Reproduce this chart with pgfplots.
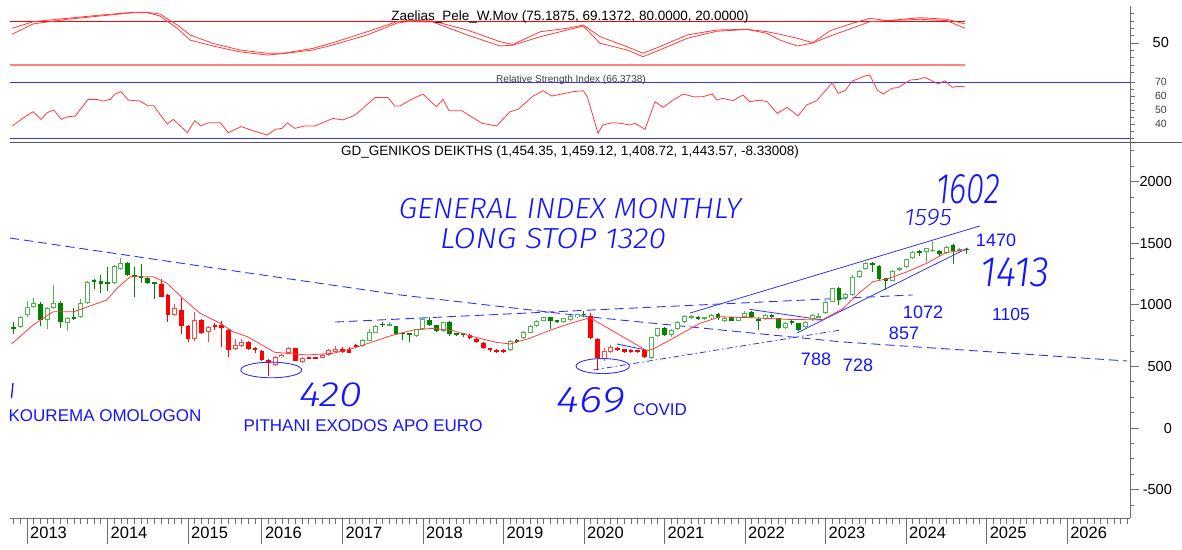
\documentclass[border=0pt]{standalone}
\usepackage{pgfplots}
\pgfplotsset{compat=1.18}
\usepackage{pgfplotstable}
\usepackage{fontspec}
\setmainfont{Liberation Sans}
\IfFontExistsTF{Fira Sans Light Italic}
  {\newfontfamily\hand{Fira Sans Light Italic}}
  {\IfFontExistsTF{FiraSans-LightItalic.otf}
    {\newfontfamily\hand{FiraSans-LightItalic.otf}}
    {\newfontfamily\hand{Liberation Sans Italic}}}
\definecolor{gh}{RGB}{80,180,80}
\definecolor{gf}{RGB}{0,130,0}
\definecolor{rf}{RGB}{255,0,0}
\definecolor{rh}{RGB}{255,70,70}
\definecolor{rl}{RGB}{255,130,130}
\definecolor{bl}{RGB}{50,50,255}
\definecolor{bt}{RGB}{20,20,255}
\definecolor{ma}{RGB}{255,60,60}
\definecolor{axgrey}{RGB}{110,110,110}

\pgfplotstableread{
i o h l c t
-2 814 860 763 808 2
-1 817 910 810 903 1
0 917 1030 905 985 1
1 985 1055 978 1012 1
2 1006 1020 828 877 2
3 877 985 802 973 1
4 973 1160 965 1014 1
5 1017 1030 811 857 2
6 855 905 790 893 1
7 903 973 877 887 2
8 898 1047 890 1017 1
9 1012 1195 1005 1188 1
10 1199 1209 1128 1193 2
11 1196 1242 1093 1171 2
12 1180 1309 1114 1175 2
13 1175 1320 1165 1315 1
14 1288 1377 1280 1337 1
15 1337 1345 1235 1242 2
16 1238 1309 1066 1232 2
17 1236 1331 1175 1222 2
18 1220 1228 1168 1175 2
19 1180 1183 1047 1175 2
20 1169 1209 1060 1066 4
21 1080 1085 863 917 4
22 917 1006 910 972 3
23 958 1053 760 828 4
24 828 835 700 720 4
25 720 944 710 877 3
26 877 885 765 774 4
27 779 830 701 822 3
28 830 850 795 826 4
29 833 871 654 809 4
30 795 800 574 633 4
31 639 720 630 674 3
32 666 722 660 701 3
33 701 705 630 639 4
34 645 660 606 641 4
35 625 630 545 552 4
36 552 560 422 525 4
37 512 585 505 579 3
38 574 600 565 593 3
39 606 655 600 647 3
40 647 650 540 544 4
41 538 575 530 566 3
42 573 580 560 569 4
43 573 578 562 569 4
44 571 598 565 593 3
45 593 640 588 633 3
46 620 666 615 639 3
47 641 655 610 614 4
48 641 660 608 612 4
49 668 680 650 664 4
50 666 720 660 714 1
51 709 800 705 782 1
52 774 840 770 828 1
53 843 863 822 839 2
54 828 860 825 841 1
55 828 832 755 760 2
56 770 782 714 766 2
57 768 772 701 752 2
58 747 806 742 801 1
59 801 890 796 882 1
60 877 903 830 836 2
61 836 840 780 787 2
62 787 862 780 857 1
63 863 868 744 760 2
64 765 770 745 761 2
65 765 775 740 761 2
66 755 760 725 733 4
67 722 728 690 695 4
68 693 698 640 647 4
69 643 650 620 639 4
70 628 640 610 624 4
71 633 640 608 614 4
72 633 715 625 709 1
73 714 720 690 701 2
74 728 790 720 782 1
75 774 835 770 828 1
76 828 880 820 871 1
77 871 905 865 898 1
78 898 905 801 871 2
79 873 880 850 869 2
80 863 895 855 890 1
81 877 915 870 909 1
82 898 928 893 923 1
83 925 946 905 921 2
84 909 930 720 728 4
85 722 730 471 568 4
86 560 650 540 627 3
87 620 674 612 655 3
88 649 660 625 633 4
89 639 645 608 614 4
90 630 640 612 618 4
91 630 636 612 622 4
92 633 640 572 579 4
93 566 742 560 736 1
94 747 815 740 809 1
95 814 820 745 755 2
96 755 800 740 795 1
97 801 870 795 863 1
98 863 915 855 909 1
99 895 915 888 909 1
100 898 910 880 894 2
101 888 905 880 898 1
102 890 925 885 917 1
103 925 935 880 890 2
104 870 900 860 895 1
105 898 905 865 871 2
106 871 905 865 898 1
107 898 950 890 936 1
108 944 950 890 898 2
109 879 900 795 875 2
110 882 925 875 917 1
111 917 925 885 898 2
112 890 895 800 809 2
113 809 858 800 850 1
114 868 875 840 850 2
115 850 855 785 795 2
116 822 870 810 863 1
117 882 925 870 917 1
118 900 930 895 909 1
119 931 1035 925 1025 1
120 1025 1140 1020 1134 1
121 1134 1145 1000 1039 2
122 1053 1095 1040 1088 1
123 1080 1240 1075 1223 1
124 1223 1285 1215 1277 1
125 1288 1345 1280 1337 1
126 1337 1345 1270 1323 2
127 1315 1320 1200 1207 2
128 1215 1220 1120 1196 2
129 1196 1285 1190 1277 1
130 1282 1305 1275 1296 1
131 1304 1375 1298 1369 1
132 1377 1440 1370 1431 1
133 1433 1445 1400 1429 2
134 1431 1465 1350 1458 1
135 1437 1520 1430 1445 1
136 1437 1445 1400 1410 2
137 1423 1480 1415 1472 1
138 1485 1490 1330 1439 2
139 1439 1460 1430 1450 1
140 1454.35 1459.12 1408.72 1443.57 2
}\candles

\pgfplotsset{
  panel/.style={scale only axis, anchor=north west, width=1120pt,
    xmin=-2.534, xmax=164.38},
}

\begin{document}
\begin{tikzpicture}
\useasboundingbox (0pt,0pt) rectangle (1182pt,-549pt);

% ---------- top panel: Zaelias_Pele_W.Mov ----------
\begin{axis}[panel, at={(10pt,-5pt)}, height=68pt, ymin=9.09, ymax=101.8,
  axis x line=none, axis y line*=right, y axis line style={draw=none},
  ytick={50}, yticklabels={50}, minor ytick={10,20,30,40,60,70,80,90},
  tick align=outside, major tick length=9pt, minor tick length=4pt,
  tick style={axgrey, line width=0.8pt},
  yticklabel style={anchor=east, inner sep=0pt, xshift=30pt, font=\fontsize{14.5}{16}\selectfont},
  clip=false]
\addplot[rf, line width=0.8pt] coordinates {(-2.534,80) (139.8,80)};
\addplot[rl, line width=1.1pt] coordinates {(-2.534,20) (139.8,20)};
\addplot[ma, line width=0.8pt] coordinates {(-2.2,70) (0.9,79) (6.0,83.7) (10.9,88) (15.8,91.8) (17.9,91.8) (19.8,89.5) (22.4,74.5) (24.3,61) (27.7,49.5) (31.7,40.5) (35.8,36) (38.2,36) (42.6,42.7) (45.6,50.4) (50.7,65.4) (55.1,79) (57,81) (60.5,80) (65.6,67.7) (70.5,51.8) (72.4,48) (76.5,65.4) (80.5,70) (82.9,74.5) (85.4,58.6) (89.4,45) (91.8,36) (94.3,45) (98.4,61) (102.8,67.7) (107.3,68.7) (110.3,65.4) (112.2,61.9) (114.8,56.4) (117.1,50.4) (119.7,66.8) (122.2,74.5) (125.6,83.7) (128.2,80.5) (133.1,84.5) (137.1,82.3) (139.8,76)};
\addplot[ma, line width=0.8pt] coordinates {(-2.2,62) (0.9,76) (6.0,82.3) (10.9,86.8) (15.8,91.3) (17.9,91.5) (19.8,86.8) (22.4,70) (24.3,54) (27.7,45.9) (31.7,38) (35.8,33.6) (38.2,35.5) (42.6,40.5) (45.6,47.3) (50.7,61) (55.1,77) (57,79.5) (60.5,78.5) (65.6,61) (70.5,45.9) (72.4,47) (76.5,58.6) (80.5,67.7) (82.9,73.2) (85.4,49.6) (89.4,40.5) (91.8,31.3) (94.3,40.5) (98.4,56.4) (102.8,66) (107.3,68.5) (110.3,63.2) (112.2,54) (114.8,45.9) (117.1,50) (119.7,59.5) (122.2,67.7) (125.6,79) (128.2,80.5) (133.1,82.3) (137.1,80.5) (139.8,70)};
\end{axis}

% ---------- RSI panel ----------
\begin{axis}[panel, at={(10pt,-73pt)}, height=67pt, ymin=28.57, ymax=76.43,
  axis x line=none, axis y line*=right, y axis line style={draw=none},
  ytick={40,50,60,70}, yticklabels={40,50,60,70}, minor ytick={30,35,45,55,65},
  tick align=outside, major tick length=5pt, minor tick length=4pt,
  tick style={axgrey, line width=0.8pt},
  yticklabel style={anchor=east, inner sep=0pt, xshift=32pt, font=\fontsize{10.5}{12}\selectfont, text=black!75},
  clip=false]
\addplot[bl, line width=1pt] coordinates {(-2.534,70) (164.38,70)};
\addplot[bl, line width=1pt] coordinates {(-2.534,30) (164.38,30)};
\addplot[ma, line width=0.8pt] coordinates {(-2.2,38.6) (-0.3,45.2) (0.9,48.8) (2.1,43.3) (3.0,48.1) (4.0,50) (5.1,43.3) (6.1,45.2) (7.2,45.7) (9.1,57.6) (10.4,57.6) (11.3,56.4) (12.4,57.6) (13.1,61.4) (14.0,63.1) (15.1,57.1) (16.8,56.4) (18.0,53.1) (18.9,53) (20.9,40) (21.8,43.3) (23.9,33.8) (25.0,42.4) (25.9,38.6) (27.0,40.9) (28.8,40.9) (30.0,33.8) (31.9,38.1) (33.7,35.2) (35.8,32.1) (37.0,36.2) (38.0,36.9) (38.8,40.9) (39.9,36.9) (41.4,38.6) (42.9,38.6) (45.6,44) (47.1,42.9) (48.9,46.4) (51.9,59) (53.8,59) (54.8,52.9) (55.6,52.9) (57.1,57.1) (59.0,61.4) (61.0,52.4) (62.0,57.6) (62.9,49.5) (64.8,49.5) (67.8,40.5) (70.0,38.6) (72.0,48.8) (73.2,50.5) (75.3,59.5) (76.9,63.8) (78.2,60) (81.4,63.1) (82.9,63.8) (83.5,59.5) (85.1,33.3) (85.8,39.3) (87.2,40.9) (88.4,40.5) (89.9,39.3) (90.6,40.5) (92.1,36.2) (93.6,55.9) (94.8,51.9) (96.3,57.1) (97.8,61.4) (99.3,59.5) (100.7,59.5) (102.1,61.4) (102.8,57.1) (103.7,58.3) (105.2,56.7) (106.7,60.7) (107.7,55.9) (109.2,57.1) (110.3,55.9) (111.8,47.6) (113.3,51.9) (114.9,45.7) (116.2,53.6) (117.7,56.7) (120.0,69.5) (120.9,61.9) (121.9,63.8) (123.0,70.7) (124.9,74.3) (125.6,75) (126.7,64.3) (127.6,61.4) (128.9,65.5) (129.8,66) (131.6,71.4) (132.8,71.9) (133.8,73.3) (135.8,68.6) (136.8,70.9) (137.9,66.2) (138.7,66.9) (139.8,66.6)};
\end{axis}

% ---------- price panel ----------
\begin{axis}[panel, at={(10pt,-142pt)}, height=376pt, ymin=-730.5, ymax=2321.4,
  axis x line=none, axis y line*=right, y axis line style={draw=none},
  ytick={-500,0,500,1000,1500,2000}, yticklabels={-500,0,500,1000,1500,2000},
  minor ytick={-625,-375,-250,-125,125,250,375,625,750,875,1125,1250,1375,1625,1750,1875,2125,2250},
  tick align=outside, major tick length=9pt, minor tick length=4pt,
  tick style={axgrey, line width=0.8pt},
  yticklabel style={anchor=east, inner sep=0pt, xshift=33pt, font=\fontsize{14.5}{16}\selectfont}]
% trend lines
\addplot[bl, line width=0.9pt, dash pattern=on 9pt off 5pt] coordinates {(-2.53,1542) (25.8,1315) (55.6,1080) (85.4,893) (121.2,700) (163.9,544)};
\addplot[bl, line width=0.9pt, dash pattern=on 9pt off 5pt] coordinates {(45.9,860) (132.0,1080)};
\addplot[bl, line width=0.8pt] coordinates {(98.8,933) (142.0,1640)};
\addplot[bl, line width=0.8pt] coordinates {(114.8,773) (140.2,1461)};
\addplot[bl, line width=0.8pt] coordinates {(107.7,963) (118.6,877)};
\addplot[bl, line width=0.8pt] coordinates {(87.9,682) (92.3,633)};
\addplot[bl, line width=0.8pt, dash pattern=on 6pt off 3pt on 1.5pt off 3pt] coordinates {(84.4,471) (121.2,795)};
% wicks
\addplot[draw=none, mark=none, forget plot, restrict expr to domain={\thisrow{t}}{1:1},
  error bars/.cd, y dir=both, y explicit, error mark=none,
  error bar style={draw=gh, line width=1pt}]
  table[x=i, y expr={(\thisrow{o}+\thisrow{c})/2}, y error plus expr={\thisrow{h}-(\thisrow{o}+\thisrow{c})/2}, y error minus expr={(\thisrow{o}+\thisrow{c})/2-\thisrow{l}}]{\candles};
\addplot[draw=none, mark=none, forget plot, restrict expr to domain={\thisrow{t}}{2:2},
  error bars/.cd, y dir=both, y explicit, error mark=none,
  error bar style={draw=gf, line width=1pt}]
  table[x=i, y expr={(\thisrow{o}+\thisrow{c})/2}, y error plus expr={\thisrow{h}-(\thisrow{o}+\thisrow{c})/2}, y error minus expr={(\thisrow{o}+\thisrow{c})/2-\thisrow{l}}]{\candles};
\addplot[draw=none, mark=none, forget plot, restrict expr to domain={\thisrow{t}}{3:3},
  error bars/.cd, y dir=both, y explicit, error mark=none,
  error bar style={draw=rh, line width=1pt}]
  table[x=i, y expr={(\thisrow{o}+\thisrow{c})/2}, y error plus expr={\thisrow{h}-(\thisrow{o}+\thisrow{c})/2}, y error minus expr={(\thisrow{o}+\thisrow{c})/2-\thisrow{l}}]{\candles};
\addplot[draw=none, mark=none, forget plot, restrict expr to domain={\thisrow{t}}{4:4},
  error bars/.cd, y dir=both, y explicit, error mark=none,
  error bar style={draw=rf, line width=1pt}]
  table[x=i, y expr={(\thisrow{o}+\thisrow{c})/2}, y error plus expr={\thisrow{h}-(\thisrow{o}+\thisrow{c})/2}, y error minus expr={(\thisrow{o}+\thisrow{c})/2-\thisrow{l}}]{\candles};
% bodies
\addplot[draw=none, mark=none, forget plot, restrict expr to domain={\thisrow{t}}{2:2},
  error bars/.cd, y dir=both, y explicit, error mark=none,
  error bar style={draw=gf, line width=4.6pt}]
  table[x=i, y expr={(\thisrow{o}+\thisrow{c})/2}, y error expr={max(abs(\thisrow{c}-\thisrow{o})/2,6)}]{\candles};
\addplot[draw=none, mark=none, forget plot, restrict expr to domain={\thisrow{t}}{4:4},
  error bars/.cd, y dir=both, y explicit, error mark=none,
  error bar style={draw=rf, line width=4.6pt}]
  table[x=i, y expr={(\thisrow{o}+\thisrow{c})/2}, y error expr={max(abs(\thisrow{c}-\thisrow{o})/2,6)}]{\candles};
\addplot[draw=none, mark=none, forget plot, restrict expr to domain={\thisrow{t}}{1:1},
  error bars/.cd, y dir=both, y explicit, error mark=none,
  error bar style={draw=gh, line width=5pt}]
  table[x=i, y expr={(\thisrow{o}+\thisrow{c})/2}, y error expr={max(abs(\thisrow{c}-\thisrow{o})/2,6)}]{\candles};
\addplot[draw=none, mark=none, forget plot, restrict expr to domain={\thisrow{t}}{1:1},
  error bars/.cd, y dir=both, y explicit, error mark=none,
  error bar style={draw=white, line width=3pt}]
  table[x=i, y expr={(\thisrow{o}+\thisrow{c})/2}, y error expr={max(abs(\thisrow{c}-\thisrow{o})/2-8.1,0)}]{\candles};
\addplot[draw=none, mark=none, forget plot, restrict expr to domain={\thisrow{t}}{3:3},
  error bars/.cd, y dir=both, y explicit, error mark=none,
  error bar style={draw=rh, line width=5pt}]
  table[x=i, y expr={(\thisrow{o}+\thisrow{c})/2}, y error expr={max(abs(\thisrow{c}-\thisrow{o})/2,6)}]{\candles};
\addplot[draw=none, mark=none, forget plot, restrict expr to domain={\thisrow{t}}{3:3},
  error bars/.cd, y dir=both, y explicit, error mark=none,
  error bar style={draw=white, line width=3pt}]
  table[x=i, y expr={(\thisrow{o}+\thisrow{c})/2}, y error expr={max(abs(\thisrow{c}-\thisrow{o})/2-8.1,0)}]{\candles};
% moving average
\addplot[ma, line width=0.8pt] coordinates {(-2.3,682) (0.9,836) (3.9,944) (7.0,944) (11.9,1039) (13.4,1134) (15.4,1228) (18.8,1228) (20.9,1174) (23.2,1053) (25.8,931) (28.8,850) (30.7,782) (32.9,740) (34.5,690) (36.9,615) (38.7,606) (41.7,593) (45.6,606) (48.6,647) (51.6,701) (54.1,747) (57.5,795) (60.5,809) (63.5,790) (66.5,741) (70.0,695) (72.0,682) (75,730) (78.0,795) (81,850) (83.9,895) (92.4,627) (93.3,640) (96,720) (100.3,850) (103.3,903) (107.2,897) (113.3,882) (118.5,877) (121.5,965) (124.1,1100) (126.1,1188) (128.5,1215) (131.0,1265) (134.0,1335) (137.0,1425) (140.0,1445)};
\draw[bl, line width=0.9pt] (axis cs:36.4,471) ellipse [x radius=30.5pt, y radius=7.8pt];
\draw[bl, line width=0.9pt] (axis cs:85.8,503) ellipse [x radius=26.7pt, y radius=7.5pt];
\end{axis}

% ---------- time axis ----------
\begin{axis}[panel, at={(10pt,-142pt)}, height=376pt, ymin=0, ymax=1,
  axis y line=none, axis x line*=bottom, x axis line style={axgrey, line width=1pt, -},
  xtick={0,12,24,35,47,59,71,83,95,107,119,131,143,155},
  xticklabels={2013,2014,2015,2016,2017,2018,2019,2020,2021,2022,2023,2024,2025,2026},
  minor xtick={-2,-1,...,164},
  tick align=outside, major tick length=26pt, minor tick length=6pt,
  tick style={axgrey, line width=0.8pt},
  xticklabel style={anchor=north west, inner sep=0pt, xshift=3pt, yshift=17pt, font=\fontsize{16.5}{18}\selectfont}]
\addplot[draw=none] coordinates {(0,0.5)};
\end{axis}

% frame lines
\draw[axgrey, line width=1pt] (1130pt,-6pt) -- (1130pt,-518pt);
\draw[black!65, line width=1pt] (10pt,-142pt) -- (1182pt,-142pt);

% titles
\node[font=\fontsize{13.5}{15}\selectfont] at (570pt,-17pt) {Zaelias\_Pele\_W.Mov (75.1875, 69.1372, 80.0000, 20.0000)};
\node[font=\fontsize{10}{12}\selectfont, text=black!75] at (571pt,-80pt) {Relative Strength Index (66.3738)};
\node[font=\fontsize{13.5}{15}\selectfont] at (570pt,-152pt) {GD\_GENIKOS DEIKTHS (1,454.35, 1,459.12, 1,408.72, 1,443.57, -8.33008)};

% handwritten annotations
\node[text=bt, font=\hand\fontsize{29}{31}\selectfont, xscale=1.05] at (570pt,-209pt) {GENERAL INDEX MONTHLY};
\node[text=bt, font=\hand\fontsize{29}{31}\selectfont, xscale=1.1] at (553pt,-239pt) {LONG STOP 1320};
\node[text=bt, font=\hand\fontsize{33}{35}\selectfont, yscale=1.3] at (968pt,-189pt) {1602};
\node[text=bt, font=\hand\fontsize{24}{26}\selectfont, xscale=1.05] at (928pt,-218pt) {1595};
\node[text=bt, font=\hand\fontsize{34}{36}\selectfont, xscale=1.15, yscale=1.25] at (1015pt,-272pt) {1413};
\node[text=bt, font=\hand\fontsize{35}{37}\selectfont, xscale=1.2] at (331pt,-395pt) {420};
\node[text=bt, font=\hand\fontsize{37}{39}\selectfont, xscale=1.2] at (591pt,-400pt) {469};
\draw[bt, line width=1.3pt] (13pt,-383pt) -- (11.5pt,-398pt);

% typed annotations
\node[text=bt, font=\fontsize{18}{20}\selectfont] at (996pt,-240pt) {1470};
\node[text=bt, font=\fontsize{18}{20}\selectfont] at (923pt,-312pt) {1072};
\node[text=bt, font=\fontsize{17.5}{20}\selectfont] at (1011pt,-314pt) {1105};
\node[text=bt, font=\fontsize{18}{20}\selectfont] at (904pt,-333pt) {857};
\node[text=bt, font=\fontsize{18}{20}\selectfont] at (816pt,-359pt) {788};
\node[text=bt, font=\fontsize{18}{20}\selectfont] at (858pt,-365pt) {728};
\node[text=bt, font=\fontsize{17}{20}\selectfont] at (660pt,-410pt) {COVID};
\node[text=bt, font=\fontsize{17}{20}\selectfont] at (105pt,-416pt) {KOUREMA OMOLOGON};
\node[text=bt, font=\fontsize{17}{20}\selectfont] at (363pt,-426pt) {PITHANI EXODOS APO EURO};
\end{tikzpicture}
\end{document}
